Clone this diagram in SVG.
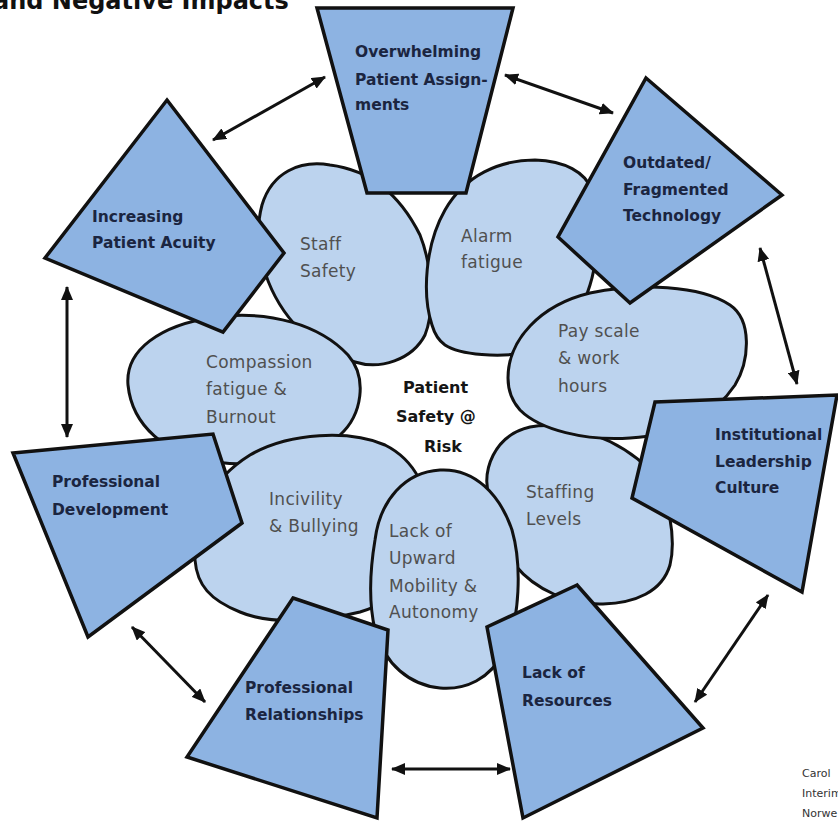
<svg xmlns="http://www.w3.org/2000/svg" width="838" height="822" viewBox="0 0 838 822">
<style>
.petal{fill:#BCD3EE;stroke:#111;stroke-width:3;stroke-linejoin:round}
.quad{fill:#8DB3E2;stroke:#111;stroke-width:3.5;stroke-linejoin:miter}
.qt{font-family:"DejaVu Sans",sans-serif;font-weight:bold;font-size:15.5px;fill:#1B2540}
.pt{font-family:"DejaVu Sans",sans-serif;font-size:17px;letter-spacing:0.3px;fill:#505050}
.ct{font-family:"DejaVu Sans",sans-serif;font-weight:bold;font-size:16px;fill:#151515}
.arr{stroke:#111;stroke-width:3;fill:none;marker-start:url(#ah);marker-end:url(#ah)}
.title{font-family:"DejaVu Sans",sans-serif;font-weight:bold;font-size:24px;fill:#111}
.credit{font-family:"DejaVu Sans",sans-serif;font-size:11px;fill:#333}
</style>
<defs>
<marker id="ah" markerUnits="userSpaceOnUse" markerWidth="14" markerHeight="12" refX="13" refY="6" orient="auto-start-reverse">
<path d="M0,0 L14,6 L0,12 Z" fill="#111"/>
</marker>
</defs>
<rect width="838" height="822" fill="#fff"/>
<text class="title" x="-7" y="9">and Negative Impacts</text>

<g id="petals">
<g id="staff-safety">
<path class="petal" d="M300,330 C270,300 250,250 262,205 C272,172 300,160 330,165 C370,170 400,195 420,235 C432,265 435,310 425,335 C412,360 380,370 355,362 C335,356 315,345 300,330 Z"/>
<text class="pt" x="300" y="250">Staff</text>
<text class="pt" x="300" y="277">Safety</text>
</g>
<g id="alarm-fatigue">
<path class="petal" d="M432,325 C422,295 425,245 445,210 C465,175 500,160 535,160 C565,161 585,172 592,190 C600,215 598,260 590,285 C580,320 560,345 530,352 C500,358 460,355 445,345 C438,340 434,332 432,325 Z"/>
<text class="pt" x="461" y="242">Alarm</text>
<text class="pt" x="461" y="268">fatigue</text>
</g>
<g id="staffing-levels">
<path class="petal" d="M490,500 C480,470 495,435 530,427 C570,420 620,440 650,470 C670,495 676,540 670,565 C662,592 635,603 603,604 C570,605 535,590 515,565 C500,545 494,520 490,500 Z"/>
<text class="pt" x="526" y="498">Staffing</text>
<text class="pt" x="526" y="525">Levels</text>
</g>
<g id="pay-scale">
<path class="petal" d="M508,378 C508,340 540,305 590,293 C640,283 700,285 730,305 C752,320 750,360 735,385 C715,415 680,435 630,438 C585,441 540,430 520,410 C511,400 508,390 508,378 Z"/>
<text class="pt" x="558" y="337">Pay scale</text>
<text class="pt" x="558" y="364">&amp; work</text>
<text class="pt" x="558" y="392">hours</text>
</g>
<g id="compassion-fatigue">
<path class="petal" d="M128,385 C125,350 160,325 215,317 C270,310 320,325 348,355 C368,378 362,415 340,435 C310,460 260,468 215,462 C165,455 132,425 128,385 Z"/>
<text class="pt" x="206" y="368">Compassion</text>
<text class="pt" x="206" y="395">fatigue &amp;</text>
<text class="pt" x="206" y="423">Burnout</text>
</g>
<g id="incivility">
<path class="petal" d="M195,560 C190,520 210,480 250,455 C290,432 350,430 385,445 C415,460 430,490 430,530 C430,570 400,600 360,612 C320,622 270,625 240,612 C210,600 197,585 195,560 Z"/>
<text class="pt" x="269" y="505">Incivility</text>
<text class="pt" x="269" y="532">&amp; Bullying</text>
</g>
<g id="upward-mobility">
<path class="petal" d="M375,540 C380,500 405,472 440,470 C475,468 500,495 512,530 C522,565 520,620 505,650 C490,680 465,690 440,688 C410,685 385,665 375,630 C368,600 370,570 375,540 Z"/>
<text class="pt" x="389" y="537">Lack of</text>
<text class="pt" x="389" y="564">Upward</text>
<text class="pt" x="389" y="592">Mobility &amp;</text>
<text class="pt" x="389" y="618">Autonomy</text>
</g>
</g>

<g id="center">
<text class="ct" x="403" y="393">Patient</text>
<text class="ct" x="396" y="422">Safety @</text>
<text class="ct" x="424" y="452">Risk</text>
</g>

<g id="overwhelming">
<polygon class="quad" points="317,8 513,8 466,193 367,193"/>
<text class="qt" x="355" y="57">Overwhelming</text>
<text class="qt" x="355" y="85">Patient Assign-</text>
<text class="qt" x="355" y="110">ments</text>
</g>
<g id="outdated">
<polygon class="quad" points="646,78 782,195 630,303 558,237"/>
<text class="qt" x="623" y="168">Outdated/</text>
<text class="qt" x="623" y="195">Fragmented</text>
<text class="qt" x="623" y="221">Technology</text>
</g>
<g id="institutional">
<polygon class="quad" points="655,402 837,395 802,592 632,498"/>
<text class="qt" x="715" y="440">Institutional</text>
<text class="qt" x="715" y="467">Leadership</text>
<text class="qt" x="715" y="493">Culture</text>
</g>
<g id="lack-of-resources">
<polygon class="quad" points="577,585 487,627 523,818 703,728"/>
<text class="qt" x="522" y="678">Lack of</text>
<text class="qt" x="522" y="706">Resources</text>
</g>
<g id="professional-relationships">
<polygon class="quad" points="293,598 388,630 377,818 187,757"/>
<text class="qt" x="245" y="693">Professional</text>
<text class="qt" x="245" y="720">Relationships</text>
</g>
<g id="professional-development">
<polygon class="quad" points="13,453 213,434 242,523 88,637"/>
<text class="qt" x="52" y="487">Professional</text>
<text class="qt" x="52" y="515">Development</text>
</g>
<g id="increasing-acuity">
<polygon class="quad" points="167,100 284,253 223,332 45,258"/>
<text class="qt" x="92" y="222">Increasing</text>
<text class="qt" x="92" y="248">Patient Acuity</text>
</g>

<g id="connectors">
<line class="arr" x1="213" y1="140" x2="325" y2="77"/>
<line class="arr" x1="505" y1="75" x2="613" y2="113"/>
<line class="arr" x1="760" y1="248" x2="797" y2="384"/>
<line class="arr" x1="768" y1="595" x2="695" y2="702"/>
<line class="arr" x1="392" y1="769" x2="510" y2="769"/>
<line class="arr" x1="132" y1="627" x2="205" y2="702"/>
<line class="arr" x1="67" y1="287" x2="67" y2="437"/>
</g>

<g id="credit">
<text class="credit" x="802" y="777">Carol</text>
<text class="credit" x="802" y="797">Interim</text>
<text class="credit" x="802" y="817">Norwe</text>
</g>
</svg>
